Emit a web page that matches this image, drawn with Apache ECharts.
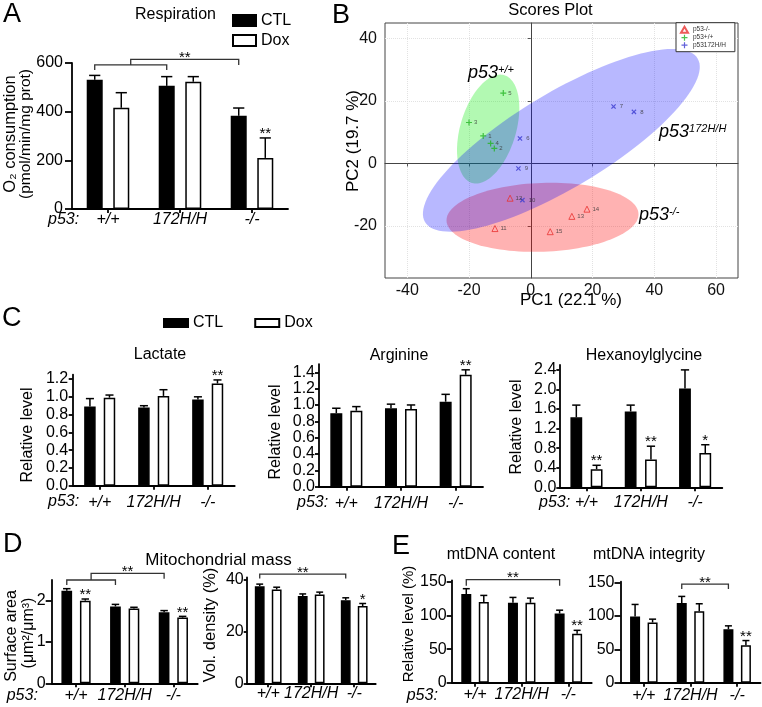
<!DOCTYPE html>
<html><head><meta charset="utf-8">
<script src="https://cdn.jsdelivr.net/npm/echarts@6/dist/echarts.min.js"></script>
<style>html,body{margin:0;padding:0;background:#fff}#c{width:762px;height:707px}</style>
</head><body><div id="c"></div>
<script>
const FONT = '"Liberation Sans", Arial, Helvetica, sans-serif';
const groups = ['+/+', '172H/H', '-/-'];

// ---- A: Respiration ----
const respCTL = [531, 506, 383];
const respCTLErr = [18, 38, 32];
const respDox = [416, 523, 210];
const respDoxErr = [62, 21, 82];
const respSig = ['', '', '**'];
const respTicks = [0, 200, 400, 600];
// [fromGroup, toGroup, level, leftDrop, rightDrop, stars]
const respBrackets = [[0, 1, 592, 571, 571, 0], [0.5, 2, 615, 592, 592, 1]];

// ---- C: metabolites ----
const lacCTL = [0.89, 0.88, 0.97];
const lacCTLErr = [0.09, 0.02, 0.03];
const lacDox = [0.99, 1.01, 1.15];
const lacDoxErr = [0.03, 0.07, 0.04];
const lacSig = ['', '', '**'];
const lacTicks = [0, 0.2, 0.4, 0.6, 0.8, 1.0, 1.2];

const argCTL = [0.90, 0.96, 1.04];
const argCTLErr = [0.06, 0.05, 0.09];
const argDox = [0.93, 0.95, 1.37];
const argDoxErr = [0.05, 0.05, 0.06];
const argSig = ['', '', '**'];
const argTicks = [0, 0.2, 0.4, 0.6, 0.8, 1.0, 1.2, 1.4];

const hexCTL = [1.43, 1.55, 2.02];
const hexCTLErr = [0.25, 0.13, 0.38];
const hexDox = [0.37, 0.57, 0.70];
const hexDoxErr = [0.08, 0.27, 0.17];
const hexSig = ['**', '**', '*'];
const hexTicks = [0, 0.4, 0.8, 1.2, 1.6, 2.0, 2.4];

// ---- D: mitochondrial mass ----
const saCTL = [2.24, 1.86, 1.72];
const saCTLErr = [0.05, 0.05, 0.04];
const saDox = [2.00, 1.81, 1.59];
const saDoxErr = [0.04, 0.03, 0.03];
const saSig = ['**', '', '**'];
const saTicks = [0, 1, 2];
const saBrackets = [[0, 1, 2.50, 2.38, 2.38, 0], [0.5, 2, 2.66, 2.50, 2.53, 1]];

const vdCTL = [37.6, 33.8, 32.2];
const vdCTLErr = [0.8, 0.8, 0.9];
const vdDox = [36.3, 34.4, 29.9];
const vdDoxErr = [0.9, 0.9, 1.0];
const vdSig = ['', '', '*'];
const vdTicks = [0, 20, 40];
const vdBrackets = [[0, 2, 42.3, 40.6, 40.6, 1]];

// ---- E: mtDNA ----
const mcCTL = [132, 119, 103];
const mcCTLErr = [8, 8, 5];
const mcDox = [120, 119, 73];
const mcDoxErr = [10, 7, 5];
const mcSig = ['', '', '**'];
const mcBrackets = [[0, 2, 153.5, 144.5, 144.5, 1]];

const miCTL = [99, 119, 80];
const miCTLErr = [18, 10, 5];
const miDox = [90, 107, 56];
const miDoxErr = [5, 11, 7];
const miSig = ['', '', '**'];
const miBrackets = [[1, 2, 147.5, 140, 140, 1]];
const eTicks = [0, 50, 100, 150];

// ---- B: PCA scores ----
const pcaNames = ['p53-/-', 'p53+/+', 'p53172H/H'];
const nullPts = [[-11.6, -20.8], [-6.7, -11.1], [13.3, -16.9], [18.2, -14.6], [6.3, -21.8]];
const nullIds = ['11', '12', '13', '14', '15'];
const wtPts = [[-15.4, 8.8], [-11.8, 4.8], [-20.0, 13.1], [-13.0, 6.4], [-8.9, 22.5]];
const wtIds = ['1', '2', '3', '4', '5'];
const mutPts = [[-3.5, 8.0], [26.8, 18.2], [33.4, 16.5], [-4.0, -1.6], [-2.7, -11.7]];
const mutIds = ['6', '7', '8', '9', '10'];
// confidence ellipses: [centerPC1, centerPC2, semiMajor, semiMinor, angleDeg]
const ellipses = [[3.8, -17.2, 31.1, 11.0, 2], [-13.8, 11.0, 18.0, 9.0, 73], [9.9, 7.4, 51.3, 15.2, 30.6]];
const pcTicksX = [-40, -20, 0, 20, 40, 60];
const pcTicksY = [-20, 0, 20, 40];

// ---------- layout / helpers ----------
const grids = [
  {left: 72, top: 63, width: 216, height: 146},          // 0 A
  {left: 385, top: 23, width: 353, height: 255, show: true, borderColor: '#444', borderWidth: 1, backgroundColor: '#fff'}, // 1 B
  {left: 72.7, top: 374.6, width: 162, height: 111.1},   // 2 C1
  {left: 319, top: 364.1, width: 164, height: 122.6},    // 3 C2
  {left: 559.3, top: 365, width: 163, height: 122.3},    // 4 C3
  {left: 51.7, top: 580, width: 146, height: 103.3},     // 5 D1
  {left: 246.7, top: 577.4, width: 129, height: 105.9},  // 6 D2
  {left: 451.7, top: 580.3, width: 140, height: 102.4},  // 7 E1
  {left: 620.5, top: 581.7, width: 140, height: 101}     // 8 E2
].map(g => Object.assign({containLabel: false, outerBoundsMode: 'none'}, g));

const AX = {color: '#000', width: 1.8};
const xAxes = [], yAxes = [], series = [];

function catX(gi, margin) {
  return {type: 'category', gridIndex: gi, data: groups,
    axisLine: {show: true, lineStyle: AX},
    axisTick: {show: true, alignWithLabel: true, length: 4, lineStyle: AX},
    axisLabel: {interval: 0, hideOverlap: false, fontSize: 16, fontStyle: 'italic', fontFamily: FONT, color: '#000', margin},
    splitLine: {show: false}};
}
function valY(gi, max, ticks, margin, tickLen, fmt) {
  return {type: 'value', gridIndex: gi, min: 0, max,
    axisLine: {show: true, lineStyle: AX},
    axisTick: {show: true, length: tickLen, customValues: ticks, lineStyle: AX},
    axisLabel: {customValues: ticks, fontSize: 16, fontFamily: FONT, color: '#000', margin, formatter: fmt},
    splitLine: {show: false}};
}

function errSeries(gi, vals, errs, side, off, capW, sig) {
  return {type: 'custom', xAxisIndex: gi, yAxisIndex: gi, z: 5, silent: true, clip: false,
    data: vals.map((v, i) => [i, v, errs[i]]),
    renderItem(params, api) {
      const i = api.value(0), v = api.value(1), e = api.value(2);
      const b = api.coord([i, v]), t = api.coord([i, v + e]);
      const x = b[0] + side * off;
      const st = {stroke: '#000', lineWidth: 1.5};
      const ch = [
        {type: 'line', shape: {x1: x, y1: b[1], x2: x, y2: t[1]}, style: st},
        {type: 'line', shape: {x1: x - capW / 2, y1: t[1], x2: x + capW / 2, y2: t[1]}, style: st}
      ];
      const s = sig && sig[params.dataIndex];
      if (s) ch.push({type: 'text', x: x, y: t[1] - 4,
        style: {text: s, fontSize: 15, fontFamily: FONT, fill: '#000', align: 'center', verticalAlign: 'middle'}});
      return {type: 'group', children: ch};
    }};
}

function bracketSeries(gi, brs, off) {
  return {type: 'custom', xAxisIndex: gi, yAxisIndex: gi, z: 5, silent: true, clip: false,
    data: brs,
    renderItem(params, api) {
      const cx = (v, y) => {
        const f = Math.floor(v), r = v - f;
        const a = api.coord([f, y])[0];
        if (!r) return a;
        const b = api.coord([f + 1, y])[0];
        return a + (b - a) * r;
      };
      const y = api.value(2);
      const x1 = cx(api.value(0), y) - off, x2 = cx(api.value(1), y) - off;
      const yt = api.coord([0, y])[1], yl = api.coord([0, api.value(3)])[1], yr = api.coord([0, api.value(4)])[1];
      const ch = [{type: 'polyline', shape: {points: [[x1, yl], [x1, yt], [x2, yt], [x2, yr]]}, style: {stroke: '#333', lineWidth: 1.3, fill: null}}];
      if (api.value(5)) ch.push({type: 'text', x: (x1 + x2) / 2, y: yt - 1.5,
          style: {text: '**', fontSize: 15, fontFamily: FONT, fill: '#000', align: 'center', verticalAlign: 'middle'}});
      return {type: 'group', children: ch};
    }};
}

function barPanel(gi, p) {
  const off = p.bw * (1 + p.gap / 100) / 2;
  const capW = p.bw * 0.7;
  xAxes.push(catX(gi, p.xm));
  yAxes.push(valY(gi, p.max, p.ticks, p.ym, p.tl, p.fmt));
  series.push(
    {type: 'bar', name: 'CTL', xAxisIndex: gi, yAxisIndex: gi, data: p.ctl, barWidth: p.bw, barGap: p.gap + '%',
      itemStyle: {color: '#000', borderColor: '#000', borderWidth: 1.5}, silent: true},
    {type: 'bar', name: 'Dox', xAxisIndex: gi, yAxisIndex: gi, data: p.dox, barWidth: p.bw, barGap: p.gap + '%',
      itemStyle: {color: '#fff', borderColor: '#000', borderWidth: 1.5}, silent: true},
    errSeries(gi, p.ctl, p.ctlErr, -1, off, capW, null),
    errSeries(gi, p.dox, p.doxErr, 1, off, capW, p.sig)
  );
  if (p.brackets) series.push(bracketSeries(gi, p.brackets, off));
}

const f1 = v => v.toFixed(1);
const f0 = v => String(v);

// A (grid 0)
barPanel(0, {ctl: respCTL, ctlErr: respCTLErr, dox: respDox, doxErr: respDoxErr, sig: respSig, brackets: respBrackets,
  bw: 16, gap: 66, max: 600, ticks: respTicks, xm: 3, ym: 9, tl: 7, fmt: f0});

// B (grid 1): PCA
xAxes.push({type: 'value', gridIndex: 1, min: -47.2, max: 67.1,
  axisLine: {show: true, lineStyle: {color: '#444', width: 1}},
  axisTick: {show: true, length: 3, customValues: pcTicksX, lineStyle: {color: '#555'}},
  axisLabel: {customValues: pcTicksX, fontSize: 16, fontFamily: FONT, color: '#111', margin: 5},
  splitLine: {show: true, lineStyle: {color: '#e2e2e2', width: 1, type: 'dotted'}}});
yAxes.push({type: 'value', gridIndex: 1, min: -36.6, max: 44.9,
  axisLine: {show: true, lineStyle: {color: '#444', width: 1}},
  axisTick: {show: true, length: 3, customValues: pcTicksY, lineStyle: {color: '#555'}},
  axisLabel: {customValues: pcTicksY, fontSize: 16, fontFamily: FONT, color: '#111', margin: 8},
  splitLine: {show: true, lineStyle: {color: '#e2e2e2', width: 1, type: 'dotted'}}});

const ellColors = ['rgba(255,0,0,0.3)', 'rgba(0,235,0,0.3)', 'rgba(0,0,255,0.28)'];
series.push({type: 'custom', name: 'ellipses', xAxisIndex: 1, yAxisIndex: 1, z: 1, silent: true,
  data: ellipses, encode: {x: 0, y: 1},
  renderItem(params, api) {
    const cx = api.value(0), cy = api.value(1), a = api.value(2), b = api.value(3), th = api.value(4) * Math.PI / 180;
    const pts = [];
    for (let k = 0; k < 120; k++) {
      const t = 2 * Math.PI * k / 120;
      pts.push(api.coord([cx + a * Math.cos(t) * Math.cos(th) - b * Math.sin(t) * Math.sin(th),
                          cy + a * Math.cos(t) * Math.sin(th) + b * Math.sin(t) * Math.cos(th)]));
    }
    return {type: 'polygon', shape: {points: pts}, style: {fill: ellColors[params.dataIndex]}};
  }});

const plusPath = 'path://M4,0H6V4H10V6H6V10H4V6H0V4H4Z';
function scat(name, pts, ids, symbol, rot, itemStyle, size) {
  return {type: 'scatter', name, xAxisIndex: 1, yAxisIndex: 1, z: 3, data: pts, symbol, symbolRotate: rot,
    symbolSize: size, itemStyle,
    label: {show: true, position: 'right', distance: 2, fontSize: 6, fontFamily: FONT, color: '#333',
      formatter: p => ids[p.dataIndex]}};
}
series.push(
  scat(pcaNames[0], nullPts, nullIds, 'triangle', 0, {color: 'transparent', borderColor: '#e8312f', borderWidth: 1}, 6),
  scat(pcaNames[1], wtPts, wtIds, plusPath, 0, {color: '#22b422'}, 6),
  scat(pcaNames[2], mutPts, mutIds, plusPath, 45, {color: '#3a3ad0'}, 6)
);

// C
barPanel(2, {ctl: lacCTL, ctlErr: lacCTLErr, dox: lacDox, doxErr: lacDoxErr, sig: lacSig,
  bw: 11.5, gap: 70, max: 1.25, ticks: lacTicks, xm: 8.5, ym: 4.5, tl: 4, fmt: f1});
barPanel(3, {ctl: argCTL, ctlErr: argCTLErr, dox: argDox, doxErr: argDoxErr, sig: argSig,
  bw: 12, gap: 67, max: 1.5, ticks: argTicks, xm: 9, ym: 4, tl: 4, fmt: f1});
barPanel(4, {ctl: hexCTL, ctlErr: hexCTLErr, dox: hexDox, doxErr: hexDoxErr, sig: hexSig,
  bw: 11.8, gap: 72, max: 2.5, ticks: hexTicks, xm: 7, ym: 3, tl: 3, fmt: f1});
// D
barPanel(5, {ctl: saCTL, ctlErr: saCTLErr, dox: saDox, doxErr: saDoxErr, sig: saSig, brackets: saBrackets,
  bw: 10.7, gap: 73, max: 2.5, ticks: saTicks, xm: 4.7, ym: 6, tl: 6, fmt: f0});
barPanel(6, {ctl: vdCTL, ctlErr: vdCTLErr, dox: vdDox, doxErr: vdDoxErr, sig: vdSig, brackets: vdBrackets,
  bw: 9.8, gap: 73, max: 41, ticks: vdTicks, xm: 2, ym: 3, tl: 3, fmt: f0});
// E
barPanel(7, {ctl: mcCTL, ctlErr: mcCTLErr, dox: mcDox, doxErr: mcDoxErr, sig: mcSig, brackets: mcBrackets,
  bw: 10, gap: 75, max: 152.5, ticks: eTicks, xm: 4, ym: 5, tl: 5, fmt: f0});
barPanel(8, {ctl: miCTL, ctlErr: miCTLErr, dox: miDox, doxErr: miDoxErr, sig: miSig, brackets: miBrackets,
  bw: 10, gap: 75, max: 151, ticks: eTicks, xm: 5, ym: 6, tl: 6, fmt: f0});

// ---------- text ----------
function T(text, x, y, size, o = {}) {
  return {type: 'text', x, y, rotation: o.rot || 0, silent: true, z: 100,
    style: {text, fontSize: size, fontFamily: FONT, fontStyle: o.italic ? 'italic' : 'normal',
      fill: o.color || '#000', align: o.align || 'center', verticalAlign: o.va || 'middle', rich: o.rich}};
}
const R90 = Math.PI / 2;
const supRich = {a: {fontSize: 18, fontStyle: 'italic', fontFamily: FONT, fill: '#000'},
                 b: {fontSize: 11, fontStyle: 'italic', fontFamily: FONT, fill: '#000', verticalAlign: 'top'}};
const graphic = [
  T('A', 3, 15, 27, {align: 'left'}),
  T('Respiration', 175.5, 14.5, 16),
  T('B', 332, 16, 27, {align: 'left'}),
  T('Scores Plot', 550.5, 10.5, 16.5),
  T('C', 2, 319, 27, {align: 'left'}),
  T('Lactate', 160, 355, 16),
  T('Arginine', 399, 356, 16),
  T('Hexanoylglycine', 644, 356, 16),
  T('D', 3, 545, 27, {align: 'left'}),
  T('Mitochondrial mass', 218.5, 560, 17),
  T('E', 392, 547, 27, {align: 'left'}),
  T('mtDNA content', 501, 555, 16),
  T('mtDNA integrity', 649, 555, 16),
  // axis titles
  T('O\u2082 consumption', 10.5, 134, 16.5, {rot: R90}),
  T('(pmol/min/mg prot)', 26, 134, 15.5, {rot: R90}),
  T('PC2 (19.7 %)', 353, 141, 17, {rot: R90}),
  T('PC1 (22.1 %)', 571, 300, 17),
  T('Relative level', 27.5, 435, 16, {rot: R90}),
  T('Relative level', 276, 432, 16, {rot: R90}),
  T('Relative level', 517, 427, 16, {rot: R90}),
  T('Surface area', 12, 636, 16, {rot: R90}),
  T('(\u03bcm\u00b2/\u03bcm\u00b3)', 28.5, 633, 16, {rot: R90}),
  T('Vol. density (%)', 210, 625, 16.5, {rot: R90}),
  T('Relative level (%)', 408.5, 624, 15, {rot: R90}),
  // genotype row labels
  T('p53:', 48, 220, 16, {align: 'left', italic: true}),
  T('p53:', 48, 502, 16, {align: 'left', italic: true}),
  T('p53:', 297, 502.7, 16, {align: 'left', italic: true}),
  T('p53:', 539, 502.7, 16, {align: 'left', italic: true}),
  T('p53:', 6.7, 696, 16, {align: 'left', italic: true}),
  T('p53:', 406.7, 696, 16, {align: 'left', italic: true}),
  // PCA group labels
  T('{a|p53}{b|+/+}', 468, 73, 18, {align: 'left', rich: supRich}),
  T('{a|p53}{b|172H/H}', 659, 132, 18, {align: 'left', rich: supRich}),
  T('{a|p53}{b|-/-}', 639, 215, 18, {align: 'left', rich: supRich})
];

const chart = echarts.init(document.getElementById('c'), null, {renderer: 'canvas'});
chart.setOption({
  animation: false,
  backgroundColor: '#fff',
  textStyle: {fontFamily: FONT},
  grid: grids,
  xAxis: xAxes,
  yAxis: yAxes,
  legend: [
    {data: ['CTL', 'Dox'], orient: 'vertical', left: 232, top: 12.5, padding: 0, itemWidth: 23, itemHeight: 11, itemGap: 4,
      icon: 'rect', selectedMode: false, textStyle: {fontSize: 16, lineHeight: 16, color: '#000', fontFamily: FONT}},
    {data: ['CTL', 'Dox'], orient: 'horizontal', left: 163, top: 315, padding: 0, itemWidth: 24, itemHeight: 8, itemGap: 31,
      icon: 'rect', selectedMode: false, textStyle: {fontSize: 16, lineHeight: 16, color: '#000', fontFamily: FONT}},
    {data: pcaNames, orient: 'vertical', left: 676, top: 22.7, padding: [3, 9, 3, 4], itemWidth: 7, itemHeight: 6, itemGap: 0.5,
      selectedMode: false, borderColor: '#333', borderWidth: 1, backgroundColor: '#fff',
      textStyle: {fontSize: 6.5, lineHeight: 6.5, color: '#333', fontFamily: FONT}}
  ],
  graphic,
  series
});
</script>
</body></html>
